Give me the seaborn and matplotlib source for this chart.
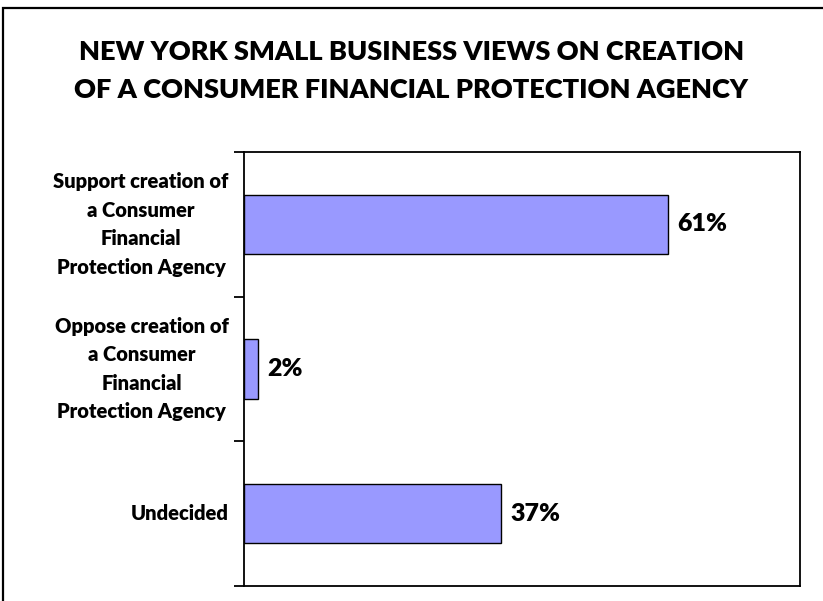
import matplotlib
matplotlib.use("Agg")
import matplotlib.pyplot as plt
import matplotlib.patches as mpatches
import seaborn as sns
import pandas as pd

categories = [
    "Support creation of\na Consumer\nFinancial\nProtection Agency",
    "Oppose creation of\na Consumer\nFinancial\nProtection Agency",
    "Undecided",
]
shares = [0.61, 0.02, 0.37]
value_labels = ["61%", "2%", "37%"]
title = "NEW YORK SMALL BUSINESS VIEWS ON CREATION\nOF A CONSUMER FINANCIAL PROTECTION AGENCY"

sns.set_theme(style="white")
plt.rcParams["font.family"] = ["Lato", "DejaVu Sans"]

df = pd.DataFrame({"category": categories, "share": shares})

W, H = 823, 601
fig = plt.figure(figsize=(W / 100, H / 100), dpi=100)
fig.patch.set_facecolor("white")
ax = fig.add_axes([244 / W, 1 - 586 / H, (800 - 244) / W, (586 - 152) / H])

sns.barplot(data=df, x="share", y="category", orient="h", ax=ax,
            color="#9999FF", saturation=1, width=0.41,
            edgecolor="black", linewidth=1.0)

ax.set_xlim(0, 0.8)
ax.set_ylim(2.5, -0.5)
ax.set_xlabel("")
ax.set_ylabel("")
ax.set_xticks([])

# category boundaries carry the tick marks, labels sit between them
ax.set_yticks([-0.5, 0.5, 1.5, 2.5], minor=True)
ax.tick_params(axis="y", which="minor", length=7, width=1.3, color="black", direction="out", left=True)
ax.tick_params(axis="y", which="major", length=0, pad=11)
ax.set_yticks(range(len(categories)))
ax.set_yticklabels(categories, fontsize=14.5, fontweight="heavy", color="black",
                   linespacing=1.6)
for lbl in ax.get_yticklabels():
    lbl.set_multialignment("center")
    lbl.set_verticalalignment("center")

for s in ax.spines.values():
    s.set_visible(True)
    s.set_color("black")
    s.set_linewidth(1.3)

for i, (v, t) in enumerate(zip(shares, value_labels)):
    ax.annotate(t, xy=(v, i), xytext=(6.5, 0), textcoords="offset points",
                ha="left", va="center", fontsize=18, fontweight="heavy", color="black")

fig.text(0.5, 1 - 71 / H, title, ha="center", va="center", fontsize=19.5,
         fontweight="heavy", color="black", linespacing=1.65)

# outer frame of the chart area
fig.patches.append(mpatches.Rectangle((3 / W, -0.05), 1.1, (1 - 8 / H) + 0.05,
                                      transform=fig.transFigure, fill=False,
                                      edgecolor="black", linewidth=1.6))

fig.savefig("out.png", dpi=100)
